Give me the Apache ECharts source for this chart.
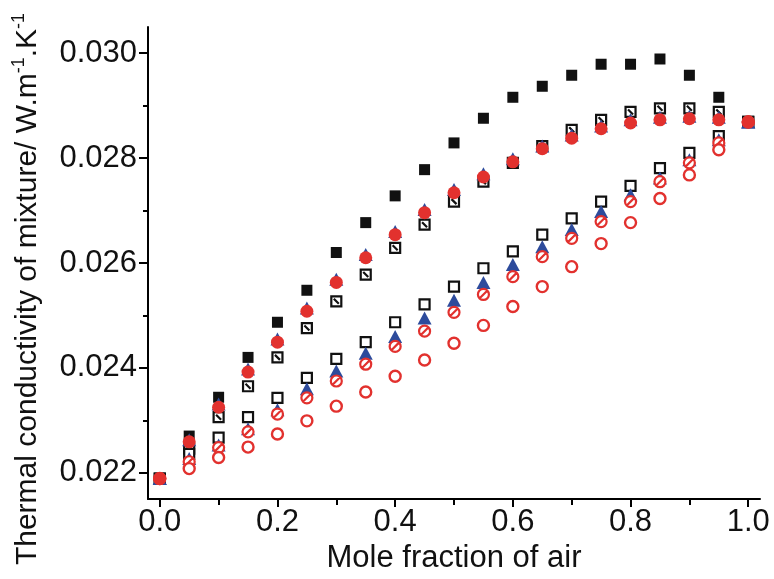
<!DOCTYPE html>
<html>
<head>
<meta charset="utf-8">
<script src="https://cdn.jsdelivr.net/npm/echarts@6/dist/echarts.min.js"></script>
<style>html,body{margin:0;padding:0;background:#fff}#c{width:774px;height:579px}</style>
</head>
<body>
<div id="c"></div>
<script>
const xValues = [0, 0.05, 0.1, 0.15, 0.2, 0.25, 0.3, 0.35, 0.4, 0.45, 0.5, 0.55, 0.6, 0.65, 0.7, 0.75, 0.8, 0.85, 0.9, 0.95, 1.0];

const blackFilledSquares = [0.02189, 0.02270, 0.02344, 0.02420, 0.02487, 0.02548, 0.02620, 0.02677, 0.02728, 0.02778, 0.02829, 0.02876, 0.02916, 0.02937, 0.02958, 0.02979, 0.02979, 0.02989, 0.02958, 0.02916, 0.02869];
const upperTriangles = [0.02189, 0.02263, 0.02331, 0.02398, 0.02455, 0.02514, 0.02569, 0.02616, 0.02660, 0.02702, 0.02740, 0.02770, 0.02799, 0.02823, 0.02844, 0.02861, 0.02873, 0.02878, 0.02880, 0.02878, 0.02869];
const upperRedCircles = [0.02189, 0.02259, 0.02325, 0.02392, 0.02449, 0.02508, 0.02563, 0.02610, 0.02654, 0.02696, 0.02734, 0.02764, 0.02793, 0.02818, 0.02838, 0.02856, 0.02867, 0.02873, 0.02875, 0.02873, 0.02869];
const upperSlashSquares = [0.02189, 0.02246, 0.02306, 0.02365, 0.02420, 0.02476, 0.02527, 0.02578, 0.02629, 0.02673, 0.02717, 0.02755, 0.02791, 0.02823, 0.02854, 0.02873, 0.02888, 0.02895, 0.02895, 0.02888, 0.02869];
const lowerOpenSquares = [0.02189, 0.02236, 0.02267, 0.02306, 0.02343, 0.02381, 0.02417, 0.02449, 0.02487, 0.02521, 0.02555, 0.02590, 0.02622, 0.02654, 0.02685, 0.02717, 0.02747, 0.02781, 0.02810, 0.02842, 0.02869];
const lowerTriangles = [0.02189, 0.02227, 0.02253, 0.02284, 0.02320, 0.02360, 0.02394, 0.02428, 0.02460, 0.02495, 0.02529, 0.02563, 0.02597, 0.02631, 0.02664, 0.02698, 0.02730, 0.02762, 0.02797, 0.02835, 0.02869];
const lowerSlashCircles = [0.02189, 0.02221, 0.02248, 0.02278, 0.02312, 0.02343, 0.02375, 0.02407, 0.02441, 0.02470, 0.02506, 0.02540, 0.02574, 0.02612, 0.02647, 0.02679, 0.02717, 0.02755, 0.02791, 0.02829, 0.02869];
const lowerOpenCircles = [0.02189, 0.02208, 0.02229, 0.02249, 0.02274, 0.02299, 0.02327, 0.02354, 0.02384, 0.02415, 0.02447, 0.02481, 0.02517, 0.02555, 0.02593, 0.02637, 0.02677, 0.02723, 0.02768, 0.02816, 0.02869];

const xMajorTicks = [0, 0.2, 0.4, 0.6, 0.8, 1.0];
const xMinorTicks = [0.1, 0.3, 0.5, 0.7, 0.9];
const yMajorTicks = [0.022, 0.024, 0.026, 0.028, 0.030];
const yMinorTicks = [0.023, 0.025, 0.027, 0.029];

const xTitle = 'Mole fraction of air';
const yTitleMain = 'Thermal conductivity of mixture/ W.m';
const yTitleMid = '.K';
const yTitleSup = '-1';

const RED = '#e2312e', BLUE = '#2d4b9c', BLACK = '#111111';
const FONT = 'Liberation Sans, Arial, sans-serif';

function pts(arr) { return xValues.map((x, i) => [x, arr[i]]); }

const slashSquarePath = 'path://M0,0 L10,0 L10,10 L0,10 Z M2.5,2.5 L7.5,7.5';
const slashCirclePath = 'path://M0,5 A5,5 0 1,1 10,5 A5,5 0 1,1 0,5 Z M1.8,8.2 L8.2,1.8';

const chart = echarts.init(document.getElementById('c'), null, {renderer: 'canvas'});
const axisLineStyle = {color: '#000', width: 2};
chart.setOption({
  animation: false,
  backgroundColor: '#fff',
  grid: {left: 148, right: 14, top: 27, bottom: 78, containLabel: false},
  xAxis: [{
    type: 'value', min: -0.02, max: 1.02, position: 'bottom',
    axisLine: {show: true, onZero: false, lineStyle: axisLineStyle},
    axisTick: {show: true, customValues: xMajorTicks, length: 8, lineStyle: axisLineStyle},
    axisLabel: {customValues: xMajorTicks, formatter: v => v.toFixed(1), fontSize: 31, color: '#111', fontFamily: FONT, margin: 8},
    splitLine: {show: false},
    name: xTitle, nameLocation: 'middle', nameGap: 44,
    nameTextStyle: {fontSize: 31, color: '#111', fontFamily: FONT}
  }, {
    type: 'value', min: -0.02, max: 1.02, position: 'bottom', offset: 0,
    axisLine: {show: false, onZero: false},
    axisTick: {show: true, customValues: xMinorTicks, length: 6, lineStyle: axisLineStyle},
    axisLabel: {show: false},
    splitLine: {show: false}
  }],
  yAxis: [{
    type: 'value', min: 0.0215, max: 0.0305, position: 'left',
    axisLine: {show: true, onZero: false, lineStyle: axisLineStyle},
    axisTick: {show: true, customValues: yMajorTicks, length: 9, lineStyle: axisLineStyle},
    axisLabel: {customValues: yMajorTicks, formatter: v => v.toFixed(3), fontSize: 31, color: '#111', fontFamily: FONT, margin: 11},
    splitLine: {show: false}
  }, {
    type: 'value', min: 0.0215, max: 0.0305, position: 'left', offset: 0,
    axisLine: {show: false, onZero: false},
    axisTick: {show: true, customValues: yMinorTicks, length: 5, lineStyle: axisLineStyle},
    axisLabel: {show: false},
    splitLine: {show: false}
  }],
  graphic: [{
    type: 'text', x: 28, y: 289, rotation: Math.PI / 2,
    style: {
      text: '{a|' + yTitleMain + '}{s|' + yTitleSup + '}{a|' + yTitleMid + '}{s|' + yTitleSup + '}',
      align: 'center', verticalAlign: 'middle',
      rich: {
        a: {fontSize: 30, fontFamily: FONT, fill: '#111', lineHeight: 36},
        s: {fontSize: 18, fontFamily: FONT, fill: '#111', verticalAlign: 'top', lineHeight: 22}
      }
    }
  }],
  series: [
    {type: 'scatter', name: 'A', data: pts(blackFilledSquares), symbol: 'rect', symbolSize: 11,
     itemStyle: {color: BLACK, opacity: 1}},
    {type: 'scatter', name: 'B', data: pts(upperSlashSquares), symbol: slashSquarePath, symbolSize: 10,
     itemStyle: {color: '#fff', borderColor: BLACK, borderWidth: 2.2, opacity: 1}},
    {type: 'scatter', name: 'E', data: pts(lowerOpenSquares), symbol: 'rect', symbolSize: 10,
     itemStyle: {color: '#fff', borderColor: BLACK, borderWidth: 2.2, opacity: 1}},
    {type: 'scatter', name: 'C', data: pts(upperTriangles), symbol: 'triangle', symbolSize: [14, 13],
     itemStyle: {color: BLUE, opacity: 1}},
    {type: 'scatter', name: 'F', data: pts(lowerTriangles), symbol: 'triangle', symbolSize: [14, 13],
     itemStyle: {color: BLUE, opacity: 1}},
    {type: 'scatter', name: 'G', data: pts(lowerSlashCircles), symbol: slashCirclePath, symbolSize: 11,
     itemStyle: {color: '#fff', borderColor: RED, borderWidth: 2.2, opacity: 1}},
    {type: 'scatter', name: 'H', data: pts(lowerOpenCircles), symbol: 'circle', symbolSize: 11,
     itemStyle: {color: '#fff', borderColor: RED, borderWidth: 2.4, opacity: 1}},
    {type: 'scatter', name: 'D', data: pts(upperRedCircles), symbol: 'circle', symbolSize: 13,
     itemStyle: {color: RED, opacity: 1}}
  ]
});
</script>
</body>
</html>
